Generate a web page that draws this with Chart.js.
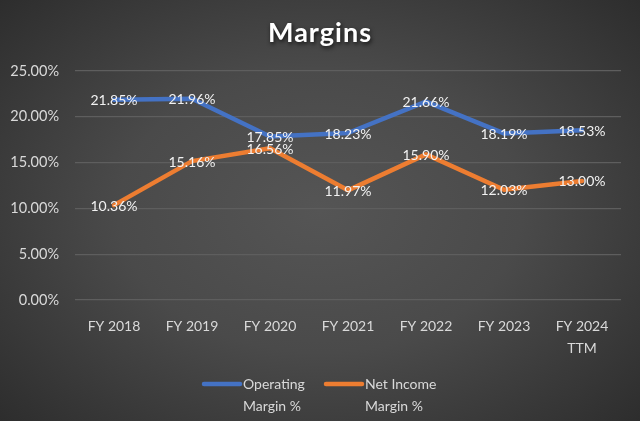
<!DOCTYPE html>
<html>
<head>
<meta charset="utf-8">
<script src="https://cdn.jsdelivr.net/npm/chart.js@4/dist/chart.umd.min.js"></script>
<style>
  html, body { margin: 0; padding: 0; }
  body {
    width: 640px; height: 421px; overflow: hidden;
    background: radial-gradient(ellipse 70% 75% at 50% 50%, #555555 0%, #4a4a4a 45%, #2c2c2c 100%);
  }
  #wrap { position: relative; width: 640px; height: 421px; }
</style>
</head>
<body>
<div id="wrap"><canvas id="c" width="640" height="421"></canvas></div>
<script>
const chartTitle = 'Margins';
const categories = ['FY 2018', 'FY 2019', 'FY 2020', 'FY 2021', 'FY 2022', 'FY 2023', ['FY 2024', 'TTM']];
const operatingMargin = [21.85, 21.96, 17.85, 18.23, 21.66, 18.19, 18.53];
const netIncomeMargin = [10.36, 15.16, 16.56, 11.97, 15.90, 12.03, 13.00];
const seriesNames = [['Operating', 'Margin %'], ['Net Income', 'Margin %']];
const yTicks = [0, 5, 10, 15, 20, 25];

const FONT = 'Lato, "Open Sans", sans-serif';
const BLUE = '#4472C4';
const ORANGE = '#ED7D31';

const titlePlugin = {
  id: 'shadowTitle',
  afterDraw(chart) {
    const ctx = chart.ctx;
    ctx.save();
    ctx.font = 'bold 27px ' + FONT;
    ctx.letterSpacing = '1px';
    ctx.textAlign = 'center';
    ctx.textBaseline = 'middle';
    ctx.shadowColor = 'rgba(0,0,0,0.75)';
    ctx.shadowBlur = 4;
    ctx.shadowOffsetX = 1;
    ctx.shadowOffsetY = 2;
    ctx.fillStyle = '#ffffff';
    ctx.fillText(chartTitle, 320, 33);
    ctx.restore();
  }
};

const labelPlugin = {
  id: 'pointLabels',
  afterDatasetsDraw(chart) {
    const ctx = chart.ctx;
    ctx.save();
    ctx.font = '14px ' + FONT;
    ctx.fillStyle = '#f2f2f2';
    ctx.textAlign = 'center';
    ctx.textBaseline = 'middle';
    chart.data.datasets.forEach((ds, i) => {
      const meta = chart.getDatasetMeta(i);
      meta.data.forEach((pt, j) => {
        ctx.fillText(ds.data[j].toFixed(2) + '%', pt.x, pt.y + 1);
      });
    });
    ctx.restore();
  }
};

const legendPlugin = {
  id: 'wrapLegend',
  afterDraw(chart) {
    const ctx = chart.ctx;
    ctx.save();
    ctx.font = '14px ' + FONT;
    ctx.textBaseline = 'middle';
    ctx.textAlign = 'left';
    const colors = [BLUE, ORANGE];
    const starts = [204, 326];
    const y = 384;
    chart.data.datasets.forEach((ds, i) => {
      ctx.strokeStyle = colors[i];
      ctx.lineWidth = 4.5;
      ctx.lineCap = 'round';
      ctx.beginPath();
      ctx.moveTo(starts[i], y);
      ctx.lineTo(starts[i] + 36, y);
      ctx.stroke();
      ctx.fillStyle = '#d9d9d9';
      seriesNames[i].forEach((line, k) => {
        ctx.fillText(line, starts[i] + 39, y + k * 22);
      });
    });
    ctx.restore();
  }
};

new Chart(document.getElementById('c'), {
  type: 'line',
  data: {
    labels: categories,
    datasets: [
      { label: 'Operating Margin %', data: operatingMargin, borderColor: BLUE, backgroundColor: BLUE,
        borderWidth: 4.5, pointRadius: 0, tension: 0, borderCapStyle: 'round', borderJoinStyle: 'round' },
      { label: 'Net Income Margin %', data: netIncomeMargin, borderColor: ORANGE, backgroundColor: ORANGE,
        borderWidth: 4.5, pointRadius: 0, tension: 0, borderCapStyle: 'round', borderJoinStyle: 'round' }
    ]
  },
  options: {
    responsive: false,
    animation: false,
    layout: { padding: { left: 0, right: 19, top: 71, bottom: 0 } },
    plugins: {
      legend: { display: false },
      tooltip: { enabled: false },
      title: { display: false }
    },
    scales: {
      x: {
        offset: true,
        afterFit(axis) { axis.height = 121; },
        grid: { display: false, drawTicks: false },
        border: { display: false },
        ticks: { color: '#d9d9d9', font: { family: FONT, size: 14, lineHeight: 1.55 }, padding: 16, maxRotation: 0, autoSkip: false }
      },
      y: {
        min: 0, max: 25,
        afterFit(axis) { axis.width = 75; },
        afterBuildTicks(axis) { axis.ticks = yTicks.map(v => ({ value: v })); },
        grid: { color: '#5e5e5e', lineWidth: 1.2, drawTicks: false },
        border: { display: false },
        ticks: { color: '#d9d9d9', font: { family: FONT, size: 14.5 }, padding: 16,
                 callback: v => v.toFixed(2) + '%' }
      }
    }
  },
  plugins: [labelPlugin, legendPlugin, titlePlugin]
});
</script>
</body>
</html>
